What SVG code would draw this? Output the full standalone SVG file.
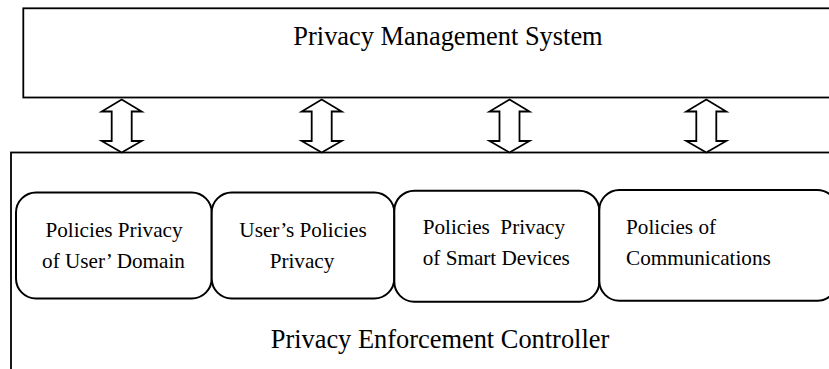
<svg xmlns="http://www.w3.org/2000/svg" width="829" height="369" viewBox="0 0 829 369">
<style>
.frame{fill:#fff;stroke:#000;stroke-width:1.8}
.box{fill:#fff;stroke:#000;stroke-width:2}
.arr{fill:#fff;stroke:#000;stroke-width:1.8;stroke-linejoin:miter}
.t{font-family:"Liberation Serif","Times New Roman",serif;fill:#000}
.big{font-size:26.4px}
.sm{font-size:21.2px}
</style>
<rect width="829" height="369" fill="#fff"/>
<g id="pms">
<rect class="frame" x="23.3" y="8.3" width="830" height="89.2"/>
<text class="t big" x="448" y="45" text-anchor="middle">Privacy Management System</text>
</g>
<g id="pec">
<rect class="frame" x="11" y="152.5" width="840" height="240"/>
<text class="t big" x="440" y="348.3" text-anchor="middle">Privacy Enforcement Controller</text>
</g>
<g id="connectors">
<polygon class="arr" points="121.7,99.5 141.7,111.5 131.7,111.5 131.7,141 141.7,141 121.7,152.5 101.7,141 111.7,141 111.7,111.5 101.7,111.5"/>
<polygon class="arr" points="321.7,99.5 341.7,111.5 331.7,111.5 331.7,141 341.7,141 321.7,152.5 301.7,141 311.7,141 311.7,111.5 301.7,111.5"/>
<polygon class="arr" points="509.5,99.5 529.5,111.5 519.5,111.5 519.5,141 529.5,141 509.5,152.5 489.5,141 499.5,141 499.5,111.5 489.5,111.5"/>
<polygon class="arr" points="706.3,99.5 726.3,111.5 716.3,111.5 716.3,141 726.3,141 706.3,152.5 686.3,141 696.3,141 696.3,111.5 686.3,111.5"/>
</g>
<g id="n1">
<rect class="box" x="16" y="192.5" width="195.7" height="106" rx="20"/>
<text class="t sm" x="114" y="237" text-anchor="middle">Policies Privacy</text>
<text class="t sm" x="113.5" y="267.8" text-anchor="middle">of User’ Domain</text>
</g>
<g id="n2">
<rect class="box" x="211.7" y="192.5" width="182.6" height="106" rx="20"/>
<text class="t sm" x="303" y="237" text-anchor="middle">User’s Policies</text>
<text class="t sm" x="302" y="267.8" text-anchor="middle">Privacy</text>
</g>
<g id="n3">
<rect class="box" x="394.3" y="190.7" width="205" height="111" rx="20"/>
<text class="t sm" x="422.7" y="233.5" xml:space="preserve">Policies  Privacy</text>
<text class="t sm" x="422.7" y="265">of Smart Devices</text>
</g>
<g id="n4">
<rect class="box" x="599.3" y="190" width="238" height="110.7" rx="20"/>
<text class="t sm" x="626" y="234">Policies of</text>
<text class="t sm" x="626" y="265">Communications</text>
</g>
</svg>
